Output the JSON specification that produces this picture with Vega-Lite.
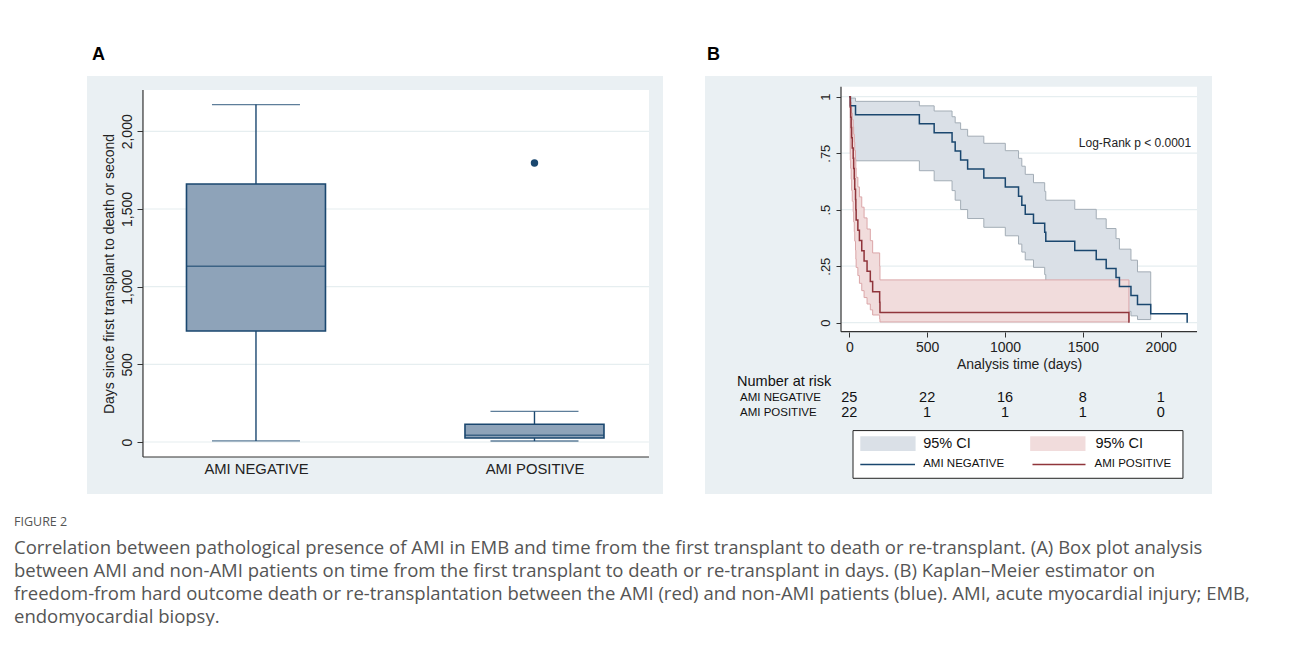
{
  "$schema": "https://vega.github.io/schema/vega-lite/v6.json",
  "padding": {"left": 14, "top": 46, "right": 0, "bottom": 0},
  "background": "white",
  "spacing": 42,
  "title": {
    "text": "FIGURE 2",
    "subtitle": [
      "Correlation between pathological presence of AMI in EMB and time from the first transplant to death or re-transplant. (A) Box plot analysis",
      "between AMI and non-AMI patients on time from the first transplant to death or re-transplant in days. (B) Kaplan–Meier estimator on",
      "freedom-from hard outcome death or re-transplantation between the AMI (red) and non-AMI patients (blue). AMI, acute myocardial injury; EMB,",
      "endomyocardial biopsy."
    ],
    "orient": "bottom",
    "anchor": "start",
    "frame": "bounds",
    "dx": -73,
    "offset": 22,
    "font": "Open Sans",
    "fontSize": 12.5,
    "fontWeight": "normal",
    "color": "#555555",
    "subtitleFont": "Open Sans",
    "subtitleFontSize": 18.5,
    "subtitleColor": "#555555",
    "subtitleLineHeight": 23,
    "subtitlePadding": 10
  },
  "datasets": {
    "box": [
      {"group": "AMI NEGATIVE", "lower": 7, "q1": 715, "median": 1131, "q3": 1661, "upper": 2172},
      {"group": "AMI POSITIVE", "lower": 6, "q1": 26, "median": 43, "q3": 114, "upper": 197}
    ],
    "outliers": [
      {"group": "AMI POSITIVE", "days": 1796}
    ],
    "km": [
      {"g": "AMI NEGATIVE", "time": 0, "surv": 1},
      {"g": "AMI NEGATIVE", "time": 7, "surv": 0.96},
      {"g": "AMI NEGATIVE", "time": 40, "surv": 0.92},
      {"g": "AMI NEGATIVE", "time": 450, "surv": 0.88},
      {"g": "AMI NEGATIVE", "time": 545, "surv": 0.84},
      {"g": "AMI NEGATIVE", "time": 660, "surv": 0.80},
      {"g": "AMI NEGATIVE", "time": 680, "surv": 0.76},
      {"g": "AMI NEGATIVE", "time": 715, "surv": 0.72},
      {"g": "AMI NEGATIVE", "time": 760, "surv": 0.68},
      {"g": "AMI NEGATIVE", "time": 864, "surv": 0.64},
      {"g": "AMI NEGATIVE", "time": 1002, "surv": 0.60},
      {"g": "AMI NEGATIVE", "time": 1087, "surv": 0.56},
      {"g": "AMI NEGATIVE", "time": 1108, "surv": 0.52},
      {"g": "AMI NEGATIVE", "time": 1130, "surv": 0.48},
      {"g": "AMI NEGATIVE", "time": 1183, "surv": 0.44},
      {"g": "AMI NEGATIVE", "time": 1255, "surv": 0.40},
      {"g": "AMI NEGATIVE", "time": 1262, "surv": 0.36},
      {"g": "AMI NEGATIVE", "time": 1448, "surv": 0.32},
      {"g": "AMI NEGATIVE", "time": 1586, "surv": 0.28},
      {"g": "AMI NEGATIVE", "time": 1650, "surv": 0.24},
      {"g": "AMI NEGATIVE", "time": 1713, "surv": 0.20},
      {"g": "AMI NEGATIVE", "time": 1735, "surv": 0.16},
      {"g": "AMI NEGATIVE", "time": 1809, "surv": 0.12},
      {"g": "AMI NEGATIVE", "time": 1851, "surv": 0.08},
      {"g": "AMI NEGATIVE", "time": 1936, "surv": 0.04},
      {"g": "AMI NEGATIVE", "time": 2170, "surv": 0.04},
      {"g": "AMI NEGATIVE", "time": 2170, "surv": 0},
      {"g": "AMI POSITIVE", "time": 0, "surv": 1},
      {"g": "AMI POSITIVE", "time": 6, "surv": 0.9545},
      {"g": "AMI POSITIVE", "time": 9, "surv": 0.9091},
      {"g": "AMI POSITIVE", "time": 12, "surv": 0.8636},
      {"g": "AMI POSITIVE", "time": 15, "surv": 0.8182},
      {"g": "AMI POSITIVE", "time": 19, "surv": 0.7727},
      {"g": "AMI POSITIVE", "time": 25, "surv": 0.7273},
      {"g": "AMI POSITIVE", "time": 28, "surv": 0.6818},
      {"g": "AMI POSITIVE", "time": 32, "surv": 0.6364},
      {"g": "AMI POSITIVE", "time": 35, "surv": 0.5909},
      {"g": "AMI POSITIVE", "time": 40, "surv": 0.5455},
      {"g": "AMI POSITIVE", "time": 42, "surv": 0.5},
      {"g": "AMI POSITIVE", "time": 44, "surv": 0.4545},
      {"g": "AMI POSITIVE", "time": 55, "surv": 0.4091},
      {"g": "AMI POSITIVE", "time": 65, "surv": 0.3636},
      {"g": "AMI POSITIVE", "time": 80, "surv": 0.3182},
      {"g": "AMI POSITIVE", "time": 95, "surv": 0.2727},
      {"g": "AMI POSITIVE", "time": 114, "surv": 0.2273},
      {"g": "AMI POSITIVE", "time": 135, "surv": 0.1818},
      {"g": "AMI POSITIVE", "time": 150, "surv": 0.1364},
      {"g": "AMI POSITIVE", "time": 195, "surv": 0.0909},
      {"g": "AMI POSITIVE", "time": 197, "surv": 0.0455},
      {"g": "AMI POSITIVE", "time": 1796, "surv": 0.0455},
      {"g": "AMI POSITIVE", "time": 1796, "surv": 0}
    ],
    "ci": [
      {"g": "AMI NEGATIVE", "time": 0, "lo": 1, "hi": 1},
      {"g": "AMI NEGATIVE", "time": 7, "lo": 0.748, "hi": 0.994},
      {"g": "AMI NEGATIVE", "time": 40, "lo": 0.7164, "hi": 0.9794},
      {"g": "AMI NEGATIVE", "time": 450, "lo": 0.6725, "hi": 0.9596},
      {"g": "AMI NEGATIVE", "time": 545, "lo": 0.628, "hi": 0.9367},
      {"g": "AMI NEGATIVE", "time": 660, "lo": 0.5845, "hi": 0.9114},
      {"g": "AMI NEGATIVE", "time": 680, "lo": 0.5421, "hi": 0.8843},
      {"g": "AMI NEGATIVE", "time": 715, "lo": 0.5008, "hi": 0.8555},
      {"g": "AMI NEGATIVE", "time": 760, "lo": 0.4609, "hi": 0.8253},
      {"g": "AMI NEGATIVE", "time": 864, "lo": 0.4221, "hi": 0.7938},
      {"g": "AMI NEGATIVE", "time": 1002, "lo": 0.3845, "hi": 0.7611},
      {"g": "AMI NEGATIVE", "time": 1087, "lo": 0.3479, "hi": 0.7273},
      {"g": "AMI NEGATIVE", "time": 1108, "lo": 0.3125, "hi": 0.6924},
      {"g": "AMI NEGATIVE", "time": 1130, "lo": 0.2781, "hi": 0.6564},
      {"g": "AMI NEGATIVE", "time": 1183, "lo": 0.2449, "hi": 0.6194},
      {"g": "AMI NEGATIVE", "time": 1255, "lo": 0.2128, "hi": 0.5812},
      {"g": "AMI NEGATIVE", "time": 1262, "lo": 0.182, "hi": 0.542},
      {"g": "AMI NEGATIVE", "time": 1448, "lo": 0.1524, "hi": 0.5016},
      {"g": "AMI NEGATIVE", "time": 1586, "lo": 0.1242, "hi": 0.4598},
      {"g": "AMI NEGATIVE", "time": 1650, "lo": 0.0976, "hi": 0.4167},
      {"g": "AMI NEGATIVE", "time": 1713, "lo": 0.0728, "hi": 0.372},
      {"g": "AMI NEGATIVE", "time": 1735, "lo": 0.0502, "hi": 0.3254},
      {"g": "AMI NEGATIVE", "time": 1809, "lo": 0.0303, "hi": 0.2766},
      {"g": "AMI NEGATIVE", "time": 1851, "lo": 0.0139, "hi": 0.2249},
      {"g": "AMI NEGATIVE", "time": 1936, "lo": 0.0139, "hi": 0.2249},
      {"g": "AMI POSITIVE", "time": 0, "lo": 1, "hi": 1},
      {"g": "AMI POSITIVE", "time": 6, "lo": 0.7187, "hi": 0.9935},
      {"g": "AMI POSITIVE", "time": 9, "lo": 0.6829, "hi": 0.9765},
      {"g": "AMI POSITIVE", "time": 12, "lo": 0.6344, "hi": 0.9539},
      {"g": "AMI POSITIVE", "time": 15, "lo": 0.5854, "hi": 0.9276},
      {"g": "AMI POSITIVE", "time": 19, "lo": 0.5374, "hi": 0.8985},
      {"g": "AMI POSITIVE", "time": 25, "lo": 0.491, "hi": 0.8671},
      {"g": "AMI POSITIVE", "time": 28, "lo": 0.4462, "hi": 0.8338},
      {"g": "AMI POSITIVE", "time": 32, "lo": 0.4028, "hi": 0.7988},
      {"g": "AMI POSITIVE", "time": 35, "lo": 0.361, "hi": 0.7621},
      {"g": "AMI POSITIVE", "time": 40, "lo": 0.3207, "hi": 0.7239},
      {"g": "AMI POSITIVE", "time": 42, "lo": 0.2818, "hi": 0.6844},
      {"g": "AMI POSITIVE", "time": 44, "lo": 0.2444, "hi": 0.6433},
      {"g": "AMI POSITIVE", "time": 55, "lo": 0.2085, "hi": 0.6007},
      {"g": "AMI POSITIVE", "time": 65, "lo": 0.1742, "hi": 0.5567},
      {"g": "AMI POSITIVE", "time": 80, "lo": 0.1418, "hi": 0.5111},
      {"g": "AMI POSITIVE", "time": 95, "lo": 0.1112, "hi": 0.4638},
      {"g": "AMI POSITIVE", "time": 114, "lo": 0.0827, "hi": 0.4145},
      {"g": "AMI POSITIVE", "time": 135, "lo": 0.0568, "hi": 0.363},
      {"g": "AMI POSITIVE", "time": 150, "lo": 0.0341, "hi": 0.3087},
      {"g": "AMI POSITIVE", "time": 195, "lo": 0.0156, "hi": 0.2511},
      {"g": "AMI POSITIVE", "time": 197, "lo": 0.0032, "hi": 0.1894},
      {"g": "AMI POSITIVE", "time": 1796, "lo": 0.0032, "hi": 0.1894}
    ],
    "risk": [
      {"g": "AMI NEGATIVE", "time": 0, "n": 25},
      {"g": "AMI NEGATIVE", "time": 500, "n": 22},
      {"g": "AMI NEGATIVE", "time": 1000, "n": 16},
      {"g": "AMI NEGATIVE", "time": 1500, "n": 8},
      {"g": "AMI NEGATIVE", "time": 2000, "n": 1},
      {"g": "AMI POSITIVE", "time": 0, "n": 22},
      {"g": "AMI POSITIVE", "time": 500, "n": 1},
      {"g": "AMI POSITIVE", "time": 1000, "n": 1},
      {"g": "AMI POSITIVE", "time": 1500, "n": 1},
      {"g": "AMI POSITIVE", "time": 2000, "n": 0}
    ],
    "gridA": [{"v": 0}, {"v": 500}, {"v": 1000}, {"v": 1500}, {"v": 2000}],
    "gridB": [{"v": 0}, {"v": 0.25}, {"v": 0.5}, {"v": 0.75}, {"v": 1}],
    "one": [{}]
  },
  "hconcat": [
    {
      "width": 576,
      "height": 418,
      "title": {"text": "A", "anchor": "start", "font": "Liberation Sans", "fontSize": 18, "fontWeight": "bold", "color": "#000000", "dx": 5, "offset": 12},
      "layer": [
        {
          "data": {"name": "one"},
          "mark": {"type": "rect", "fill": "white", "xOffset": -113, "x2Offset": 114.5},
          "encoding": {
            "x": {"datum": "AMI NEGATIVE", "type": "nominal"},
            "x2": {"datum": "AMI POSITIVE"},
            "y": {"datum": -96.6, "type": "quantitative"},
            "y2": {"datum": 2266}
          }
        },
        {
          "data": {"name": "gridA"},
          "mark": {"type": "rule", "color": "#e6eef0", "strokeWidth": 1.2, "xOffset": -113, "x2Offset": 114.5},
          "encoding": {
            "x": {"datum": "AMI NEGATIVE", "type": "nominal"},
            "x2": {"datum": "AMI POSITIVE"},
            "y": {"field": "v", "type": "quantitative"}
          }
        },
        {
          "data": {"name": "one"},
          "mark": {"type": "rule", "color": "#333333", "strokeWidth": 1.2, "xOffset": -113, "x2Offset": 114.5},
          "encoding": {
            "x": {"datum": "AMI NEGATIVE", "type": "nominal"},
            "x2": {"datum": "AMI POSITIVE"},
            "y": {"datum": -96.6, "type": "quantitative"}
          }
        },
        {
          "data": {"name": "one"},
          "mark": {"type": "rule", "color": "#333333", "strokeWidth": 1.2, "xOffset": -113},
          "encoding": {
            "x": {"datum": "AMI NEGATIVE", "type": "nominal"},
            "y": {"datum": -96.6, "type": "quantitative"},
            "y2": {"datum": 2266}
          }
        },
        {
          "data": {"name": "box"},
          "mark": {"type": "rule", "color": "#1a476f", "strokeWidth": 1.4},
          "encoding": {
            "x": {"field": "group", "type": "nominal",
              "scale": {"type": "point", "domain": ["AMI NEGATIVE", "AMI POSITIVE"], "padding": 0.5341, "align": 0.568},
              "axis": {"orient": "bottom", "offset": -37, "title": null, "domain": false, "ticks": false, "tickSize": 0, "labelAngle": 0, "labelAlign": "center", "labelBaseline": "top", "labelFontSize": 14.8, "labelPadding": 4, "labelColor": "#222222", "grid": false}},
            "y": {"field": "lower", "type": "quantitative",
              "scale": {"domain": [-334.7, 2356], "nice": false, "zero": false},
              "axis": {"orient": "left", "offset": -56, "values": [0, 500, 1000, 1500, 2000], "format": ",d", "domain": false, "grid": false, "tickSize": 6, "tickColor": "#333333", "labelAngle": -90, "labelAlign": "center", "labelBaseline": "bottom", "labelFontSize": 14, "labelPadding": 3, "title": "Days since first transplant to death or second", "titleFontSize": 14, "titleFontWeight": "normal", "titlePadding": 4, "titleY": 197.5}},
            "y2": {"field": "upper"}
          }
        },
        {
          "data": {"name": "box"},
          "mark": {"type": "bar", "width": 139, "fill": "#8ea3b9", "stroke": "#1a476f", "strokeWidth": 1.6},
          "encoding": {
            "x": {"field": "group", "type": "nominal"},
            "y": {"field": "q1", "type": "quantitative"},
            "y2": {"field": "q3"}
          }
        },
        {
          "data": {"name": "box"},
          "mark": {"type": "tick", "orient": "horizontal", "size": 139, "thickness": 1.6, "color": "#1a476f"},
          "encoding": {
            "x": {"field": "group", "type": "nominal"},
            "y": {"field": "median", "type": "quantitative"}
          }
        },
        {
          "data": {"name": "box"},
          "mark": {"type": "tick", "orient": "horizontal", "size": 88, "thickness": 1.4, "color": "#1a476f"},
          "encoding": {
            "x": {"field": "group", "type": "nominal"},
            "y": {"field": "upper", "type": "quantitative"}
          }
        },
        {
          "data": {"name": "box"},
          "mark": {"type": "tick", "orient": "horizontal", "size": 88, "thickness": 1.4, "color": "#1a476f"},
          "encoding": {
            "x": {"field": "group", "type": "nominal"},
            "y": {"field": "lower", "type": "quantitative"}
          }
        },
        {
          "data": {"name": "outliers"},
          "mark": {"type": "point", "filled": true, "size": 55, "color": "#1a476f", "opacity": 1},
          "encoding": {
            "x": {"field": "group", "type": "nominal"},
            "y": {"field": "days", "type": "quantitative"}
          }
        }
      ]
    },
    {
      "width": 507,
      "height": 418,
      "title": {"text": "B", "anchor": "start", "font": "Liberation Sans", "fontSize": 18, "fontWeight": "bold", "color": "#000000", "dx": 2, "offset": 12},
      "layer": [
        {
          "data": {"name": "one"},
          "mark": {"type": "rect", "fill": "white"},
          "encoding": {
            "x": {"datum": -53.3, "type": "quantitative"},
            "x2": {"datum": 2233.3},
            "y": {"datum": -0.0398, "type": "quantitative"},
            "y2": {"datum": 1.0442}
          }
        },
        {
          "data": {"name": "gridB"},
          "mark": {"type": "rule", "color": "#e6eef0", "strokeWidth": 1.2},
          "encoding": {
            "x": {"datum": -53.3, "type": "quantitative"},
            "x2": {"datum": 2233.3},
            "y": {"field": "v", "type": "quantitative"}
          }
        },
        {
          "data": {"name": "ci"},
          "transform": [{"filter": "datum.g == 'AMI NEGATIVE'"}],
          "mark": {"type": "area", "interpolate": "step-after", "fill": "#dae0e7", "stroke": "#a3adb6", "strokeWidth": 1, "opacity": 1},
          "encoding": {
            "x": {"field": "time", "type": "quantitative",
              "scale": {"domain": [-926.8, 2329.5], "nice": false, "zero": false},
              "axis": {"orient": "bottom", "offset": -162, "values": [0, 500, 1000, 1500, 2000], "format": "d", "domain": false, "grid": false, "tickSize": 5, "tickColor": "#333333", "labelFontSize": 14, "labelPadding": 3, "labelColor": "#222222", "title": "Analysis time (days)", "titleFontSize": 14, "titleFontWeight": "normal", "titleColor": "#222222", "titlePadding": 3, "titleX": 314}},
            "y": {"field": "lo", "type": "quantitative",
              "scale": {"domain": [-0.758, 1.0916], "nice": false, "zero": false},
              "axis": {"orient": "left", "offset": -136, "values": [0, 0.25, 0.5, 0.75, 1], "format": ".2~f", "labelExpr": "replace(datum.label, '0.', '.')", "domain": false, "grid": false, "tickSize": 5, "tickColor": "#333333", "labelAngle": -90, "labelAlign": "center", "labelBaseline": "bottom", "labelFontSize": 13, "labelPadding": 4, "labelColor": "#222222", "title": null}},
            "y2": {"field": "hi"}
          }
        },
        {
          "data": {"name": "ci"},
          "transform": [{"filter": "datum.g == 'AMI POSITIVE'"}],
          "mark": {"type": "area", "interpolate": "step-after", "fill": "#f1dcdc", "stroke": "#dba6a8", "strokeWidth": 1, "opacity": 1},
          "encoding": {
            "x": {"field": "time", "type": "quantitative"},
            "y": {"field": "lo", "type": "quantitative"},
            "y2": {"field": "hi"}
          }
        },
        {
          "data": {"name": "one"},
          "mark": {"type": "rule", "color": "#333333", "strokeWidth": 1.2},
          "encoding": {
            "x": {"datum": -53.3, "type": "quantitative"},
            "x2": {"datum": 2233.3},
            "y": {"datum": -0.0398, "type": "quantitative"}
          }
        },
        {
          "data": {"name": "one"},
          "mark": {"type": "rule", "color": "#333333", "strokeWidth": 1.2},
          "encoding": {
            "x": {"datum": -53.3, "type": "quantitative"},
            "y": {"datum": -0.0398, "type": "quantitative"},
            "y2": {"datum": 1.0442}
          }
        },
        {
          "data": {"name": "km"},
          "mark": {"type": "line", "interpolate": "step-after", "strokeWidth": 1.5},
          "encoding": {
            "x": {"field": "time", "type": "quantitative"},
            "y": {"field": "surv", "type": "quantitative"},
            "color": {"field": "g", "type": "nominal", "scale": {"domain": ["AMI NEGATIVE", "AMI POSITIVE"], "range": ["#1a476f", "#90353b"]}, "legend": null}
          }
        },
        {
          "data": {"name": "one"},
          "mark": {"type": "text", "text": "Log-Rank p < 0.0001", "fontSize": 12, "align": "center", "baseline": "middle", "color": "#222222"},
          "encoding": {"x": {"datum": 1835, "type": "quantitative"}, "y": {"datum": 0.794, "type": "quantitative"}}
        },
        {
          "data": {"name": "one"},
          "mark": {"type": "text", "text": "Number at risk", "fontSize": 14.5, "align": "left", "baseline": "middle", "color": "#111111"},
          "encoding": {"x": {"datum": -721, "type": "quantitative"}, "y": {"datum": -0.261, "type": "quantitative"}}
        },
        {
          "data": {"name": "one"},
          "mark": {"type": "text", "text": "AMI NEGATIVE", "fontSize": 11.5, "align": "left", "baseline": "middle", "color": "#111111"},
          "encoding": {"x": {"datum": -702, "type": "quantitative"}, "y": {"datum": -0.3345, "type": "quantitative"}}
        },
        {
          "data": {"name": "one"},
          "mark": {"type": "text", "text": "AMI POSITIVE", "fontSize": 11.5, "align": "left", "baseline": "middle", "color": "#111111"},
          "encoding": {"x": {"datum": -702, "type": "quantitative"}, "y": {"datum": -0.4009, "type": "quantitative"}}
        },
        {
          "data": {"name": "risk"},
          "transform": [{"filter": "datum.g == 'AMI NEGATIVE'"}],
          "mark": {"type": "text", "fontSize": 14.5, "align": "center", "baseline": "middle", "color": "#111111"},
          "encoding": {"x": {"field": "time", "type": "quantitative"}, "y": {"datum": -0.3345, "type": "quantitative"}, "text": {"field": "n", "type": "quantitative"}}
        },
        {
          "data": {"name": "risk"},
          "transform": [{"filter": "datum.g == 'AMI POSITIVE'"}],
          "mark": {"type": "text", "fontSize": 14.5, "align": "center", "baseline": "middle", "color": "#111111"},
          "encoding": {"x": {"field": "time", "type": "quantitative"}, "y": {"datum": -0.4009, "type": "quantitative"}, "text": {"field": "n", "type": "quantitative"}}
        },
        {
          "data": {"name": "one"},
          "mark": {"type": "rect", "fill": "white", "stroke": "#222222", "strokeWidth": 1},
          "encoding": {"x": {"datum": 23.8, "type": "quantitative"}, "x2": {"datum": 2143}, "y": {"datum": -0.4774, "type": "quantitative"}, "y2": {"datum": -0.6885}}
        },
        {
          "data": {"name": "one"},
          "mark": {"type": "rect", "fill": "#dae0e7"},
          "encoding": {"x": {"datum": 70.6, "type": "quantitative"}, "x2": {"datum": 425.8}, "y": {"datum": -0.5022, "type": "quantitative"}, "y2": {"datum": -0.5681}}
        },
        {
          "data": {"name": "one"},
          "mark": {"type": "rect", "fill": "#f1dcdc"},
          "encoding": {"x": {"datum": 1161.8, "type": "quantitative"}, "x2": {"datum": 1517}, "y": {"datum": -0.5022, "type": "quantitative"}, "y2": {"datum": -0.5681}}
        },
        {
          "data": {"name": "one"},
          "mark": {"type": "rule", "color": "#1a476f", "strokeWidth": 1.5},
          "encoding": {"x": {"datum": 70.6, "type": "quantitative"}, "x2": {"datum": 422}, "y": {"datum": -0.627, "type": "quantitative"}}
        },
        {
          "data": {"name": "one"},
          "mark": {"type": "rule", "color": "#90353b", "strokeWidth": 1.5},
          "encoding": {"x": {"datum": 1176.6, "type": "quantitative"}, "x2": {"datum": 1517}, "y": {"datum": -0.627, "type": "quantitative"}}
        },
        {
          "data": {"name": "one"},
          "mark": {"type": "text", "text": "95% CI", "fontSize": 14.5, "align": "left", "baseline": "middle", "color": "#111111"},
          "encoding": {"x": {"datum": 474.6, "type": "quantitative"}, "y": {"datum": -0.5358, "type": "quantitative"}}
        },
        {
          "data": {"name": "one"},
          "mark": {"type": "text", "text": "95% CI", "fontSize": 14.5, "align": "left", "baseline": "middle", "color": "#111111"},
          "encoding": {"x": {"datum": 1581.2, "type": "quantitative"}, "y": {"datum": -0.5358, "type": "quantitative"}}
        },
        {
          "data": {"name": "one"},
          "mark": {"type": "text", "text": "AMI NEGATIVE", "fontSize": 11.5, "align": "left", "baseline": "middle", "color": "#111111"},
          "encoding": {"x": {"datum": 474.6, "type": "quantitative"}, "y": {"datum": -0.627, "type": "quantitative"}}
        },
        {
          "data": {"name": "one"},
          "mark": {"type": "text", "text": "AMI POSITIVE", "fontSize": 11.5, "align": "left", "baseline": "middle", "color": "#111111"},
          "encoding": {"x": {"datum": 1574.8, "type": "quantitative"}, "y": {"datum": -0.627, "type": "quantitative"}}
        }
      ]
    }
  ],
  "config": {
    "view": {"fill": "#eaf0f3", "stroke": null},
    "font": "Liberation Sans",
    "axis": {"labelFont": "Liberation Sans", "titleFont": "Liberation Sans", "labelColor": "#222222", "titleColor": "#222222"},
    "text": {"font": "Liberation Sans"}
  }
}
